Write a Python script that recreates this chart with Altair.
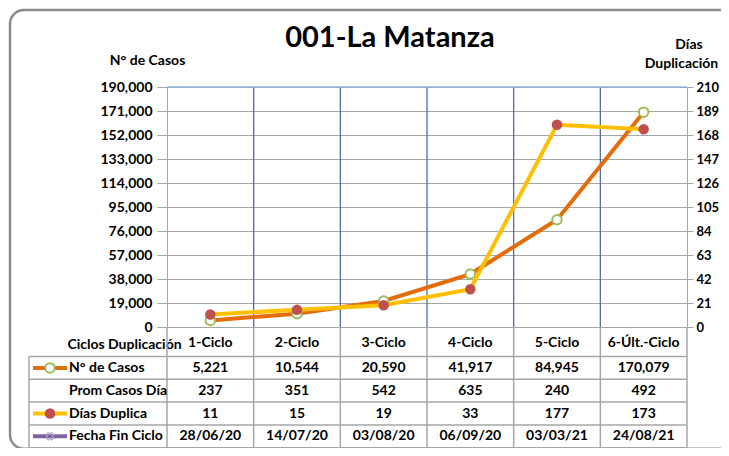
import altair as alt
import pandas as pd

# ---- data ----
categories = ["1-Ciclo", "2-Ciclo", "3-Ciclo", "4-Ciclo", "5-Ciclo", "6-Últ.-Ciclo"]
casos = [5221, 10544, 20590, 41917, 84945, 170079]
prom_casos = [237, 351, 542, 635, 240, 492]
dias_duplica = [11, 15, 19, 33, 177, 173]
fecha_fin = ["28/06/20", "14/07/20", "03/08/20", "06/09/20", "03/03/21", "24/08/21"]
row_labels = ["N° de Casos", "Prom Casos Día", "Días Duplica", "Fecha Fin Ciclo"]
left_ticks = [0, 19000, 38000, 57000, 76000, 95000, 114000, 133000, 152000, 171000, 190000]
right_ticks = [0, 21, 42, 63, 84, 105, 126, 147, 168, 189, 210]
chart_title = "001-La Matanza"

FONT = "Lato, Liberation Sans, Arial"
FS = 14
ORANGE = "#E46C0A"
YELLOW = "#FFC000"
RED = "#C0504D"
GREEN = "#9BBB59"
PURPLE = "#8064A2"
GRID = "#A6A6A6"
VBLUE = "#4F6FA0"
LBLUE = "#8DB4E2"

W, H = 520, 240
# table layout (pixels, relative to plot area)
ROW_TOP = 269.5
ROW_H = 22.8
TABLE_LEFT = -138
ROW_CENTER = [ROW_TOP + ROW_H * (i + 0.5) for i in range(4)]
ROW_LINES = [ROW_TOP + ROW_H * i for i in range(5)]
TABLE_BOTTOM = ROW_LINES[-1]

series = pd.DataFrame({"ciclo": categories, "casos": casos, "dias": dias_duplica})

xscale = alt.Scale(type="band", domain=categories, paddingInner=0, paddingOuter=0)
xaxis = alt.Axis(
    title="Ciclos Duplicación", titleFont=FONT, titleFontSize=FS, titleFontWeight="bold",
    titleColor="black", titleAngle=0, titleAlign="center", titleBaseline="middle",
    titleX=-43, titleY=17,
    labelFont=FONT, labelFontSize=FS, labelFontWeight="bold", labelColor="black",
    labelAngle=0, labelAlign="center", labelBaseline="middle", labelPadding=15,
    labelOverlap=False, domain=False, ticks=False, grid=False,
)
X = alt.X("ciclo:N", sort=categories, scale=xscale, axis=xaxis)
Xn = alt.X("ciclo:N", sort=categories, scale=xscale)

left_scale = alt.Scale(domain=[0, 190000], nice=False, zero=True)
right_scale = alt.Scale(domain=[0, 210], nice=False, zero=True)

left_axis = alt.Axis(
    values=left_ticks, tickCount=len(left_ticks) + 5, format=",d", title="N° de Casos",
    titleFont=FONT, titleFontSize=FS, titleFontWeight="bold", titleColor="black",
    titleAngle=0, titleAlign="center", titleBaseline="middle", titleX=-20, titleY=-27,
    labelFont=FONT, labelFontSize=FS, labelFontWeight="bold", labelColor="black",
    labelPadding=5, tickSize=10, tickColor=GRID, domainColor=GRID, labelOverlap=False,
    grid=True, gridColor=GRID, gridWidth=1,
)
right_axis = alt.Axis(
    values=right_ticks, tickCount=len(right_ticks) + 5, orient="right", title="Duplicación",
    titleFont=FONT, titleFontSize=FS, titleFontWeight="bold", titleColor="black",
    titleAngle=0, titleAlign="center", titleBaseline="middle", titleX=-6, titleY=-24,
    labelFont=FONT, labelFontSize=13, labelFontWeight="bold", labelColor="black",
    labelPadding=3, tickSize=6, tickColor=GRID, domainColor=GRID, labelOverlap=False,
    grid=False,
)

one = pd.DataFrame({"ciclo": [categories[0]]})

# ---- decorations (frame, separators) ----
frame = alt.Chart(one).mark_rect(
    fill="white", fillOpacity=0, stroke="#8C8C8C", strokeWidth=2.5, cornerRadius=14).encode(
    x=alt.value(-157), x2=alt.value(580), y=alt.value(-77), y2=alt.value(TABLE_BOTTOM + 1))

vgrid = alt.Chart(pd.DataFrame({"ciclo": categories[1:]})).mark_rule(
    color=VBLUE, strokeWidth=1.3).encode(
    x=alt.X("ciclo:N", sort=categories, scale=xscale, bandPosition=0),
    y=alt.value(0), y2=alt.value(H))
vtable = alt.Chart(pd.DataFrame({"ciclo": categories})).mark_rule(
    color=GRID, strokeWidth=1.5).encode(
    x=alt.X("ciclo:N", sort=categories, scale=xscale, bandPosition=0),
    y=alt.value(H), y2=alt.value(TABLE_BOTTOM))
vtable_end = alt.Chart(pd.DataFrame({"ciclo": [categories[-1]]})).mark_rule(
    color=GRID, strokeWidth=1.5).encode(
    x=alt.X("ciclo:N", sort=categories, scale=xscale, bandPosition=1),
    y=alt.value(H), y2=alt.value(TABLE_BOTTOM))
top_border = alt.Chart(one).mark_rule(color=LBLUE, strokeWidth=1.3).encode(
    x=alt.value(0), x2=alt.value(W), y=alt.value(0))

title_mark = alt.Chart(pd.DataFrame({"t": [chart_title]})).mark_text(
    font=FONT, fontSize=29, fontWeight="bold", color="black", align="center",
    baseline="middle").encode(x=alt.value(223), y=alt.value(-49), text="t:N")

base = alt.Chart(series)

casos_line = base.mark_line(color=ORANGE, strokeWidth=4).encode(
    x=X, y=alt.Y("casos:Q", scale=left_scale, axis=left_axis))
casos_pts = base.mark_point(shape="circle", filled=False, fill="white", fillOpacity=1,
                            stroke=GREEN, strokeWidth=2, size=90, opacity=1).encode(
    x=Xn, y=alt.Y("casos:Q", scale=left_scale))

left_layer = alt.layer(frame, vgrid, vtable, vtable_end, top_border, title_mark,
                       casos_line, casos_pts)

dias_line = base.mark_line(color=YELLOW, strokeWidth=4).encode(
    x=Xn, y=alt.Y("dias:Q", scale=right_scale, axis=right_axis))
dias_pts = base.mark_point(shape="circle", filled=True, color=RED, size=110, opacity=1).encode(
    x=Xn, y=alt.Y("dias:Q", scale=right_scale))

# "Días" first line of the right axis title
dias_title = alt.Chart(pd.DataFrame({"t": ["Días"]})).mark_text(
    font=FONT, fontSize=FS, fontWeight="bold", color="black",
    align="center", baseline="middle").encode(x=alt.value(W + 2), y=alt.value(-42), text="t:N")

# ---- table ----
table_marks = []
for ly in ROW_LINES:
    table_marks.append(alt.Chart(one).mark_rule(color=GRID, strokeWidth=1.5).encode(
        x=alt.value(TABLE_LEFT), x2=alt.value(W), y=alt.value(ly)))
table_marks.append(alt.Chart(one).mark_rule(color=GRID, strokeWidth=1.5).encode(
    x=alt.value(TABLE_LEFT), y=alt.value(ROW_LINES[0]), y2=alt.value(TABLE_BOTTOM)))

row_values = [
    [f"{v:,}" for v in casos],
    [str(v) for v in prom_casos],
    [str(v) for v in dias_duplica],
    list(fecha_fin),
]
sym_colors = [ORANGE, None, YELLOW, PURPLE]
for r, label in enumerate(row_labels):
    yc = ROW_CENTER[r]
    if sym_colors[r]:
        table_marks.append(alt.Chart(one).mark_rule(color=sym_colors[r], strokeWidth=4).encode(
            x=alt.value(-134), x2=alt.value(-100), y=alt.value(yc)))
    if r == 0:
        table_marks.append(alt.Chart(one).mark_point(
            shape="circle", filled=False, fill="white", fillOpacity=1, stroke=GREEN,
            strokeWidth=2, size=90, opacity=1).encode(x=alt.value(-117), y=alt.value(yc)))
    elif r == 2:
        table_marks.append(alt.Chart(one).mark_point(
            shape="circle", filled=True, color=RED, size=110, opacity=1).encode(
            x=alt.value(-117), y=alt.value(yc)))
    elif r == 3:
        table_marks.append(alt.Chart(one).mark_point(
            shape="cross", filled=False, stroke="#B3A2C7", strokeWidth=1, size=60, angle=45,
            opacity=1).encode(x=alt.value(-117), y=alt.value(yc)))
    table_marks.append(alt.Chart(pd.DataFrame({"lab": [label]})).mark_text(
        font=FONT, fontSize=FS, fontWeight="bold", color="black", align="left",
        baseline="middle").encode(x=alt.value(-98), y=alt.value(yc), text="lab:N"))
    rdf = pd.DataFrame({"ciclo": categories, "txt": row_values[r]})
    table_marks.append(alt.Chart(rdf).mark_text(
        font=FONT, fontSize=FS, fontWeight="bold", color="black", align="center",
        baseline="middle").encode(x=Xn, y=alt.value(yc), text="txt:N"))

right_layer = alt.layer(dias_line, dias_pts, dias_title, *table_marks)

chart = alt.layer(left_layer, right_layer).resolve_scale(y="independent").properties(
    width=W, height=H,
    autosize=alt.AutoSizeParams(type="none"),
    padding={"left": 159, "top": 79, "right": 34, "bottom": 121},
).configure_view(stroke=None).configure(background="white")

chart.save("out.html", embed_options={"renderer": "svg", "actions": False})
